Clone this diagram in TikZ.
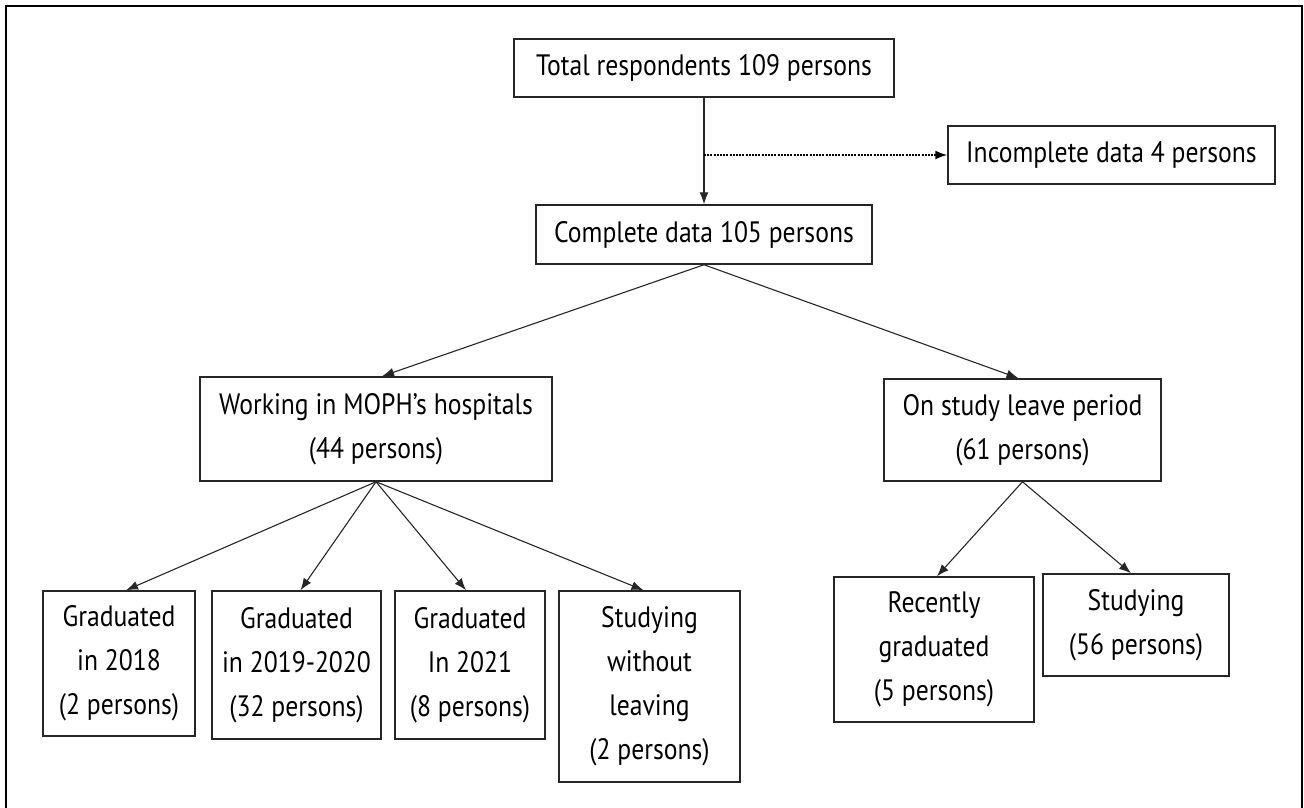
\documentclass[tikz,border=0pt]{standalone}
\usepackage{fontspec}
\setmainfont{PT Sans}[FakeStretch=0.87]
\usetikzlibrary{arrows.meta}
\begin{document}
\begin{tikzpicture}[x=1pt,y=-1pt,
  box/.style={draw=black!85,line width=1.5pt,inner sep=0pt,align=center,
    font=\fontsize{29.5}{44}\selectfont},
  arr/.style={draw=black!85,line width=1.1pt,-{Latex[length=12pt,width=9pt]}},
  dotarr/.style={draw=black,line width=1.6pt,dash pattern=on 2pt off 1.2pt,-{Latex[length=12pt,width=9pt]}},
]
\useasboundingbox (0,0) rectangle (1304,808);
\draw[line width=2.2pt] (6,808) -- (6,6) -- (1302,6) -- (1302,808);

\node[box,minimum width=380,minimum height=58] (tot) at (704,68) {Total respondents 109 persons};
\node[box,minimum width=327,minimum height=58] (inc) at (1111.5,155) {Incomplete data 4 persons};
\node[box,minimum width=336,minimum height=59] (comp) at (704,234.5) {Complete data 105 persons};
\node[box,minimum width=352,minimum height=104] (work) at (376,429) {Working in MOPH’s hospitals\\(44 persons)};
\node[box,minimum width=277,minimum height=102] (leave) at (1022.5,430) {On study leave period\\(61 persons)};
\node[box,minimum width=152,minimum height=145] (g18) at (119,663.5) {Graduated\\in 2018\\(2 persons)};
\node[box,minimum width=169,minimum height=148] (g19) at (296.5,665) {Graduated\\in 2019-2020\\(32 persons)};
\node[box,minimum width=150,minimum height=148] (g21) at (470,665) {Graduated\\In 2021\\(8 persons)};
\node[box,minimum width=181,minimum height=191] (stw) at (649.5,686.5) {Studying\\without\\leaving\\(2 persons)};
\node[box,minimum width=200,minimum height=145] (rec) at (934,649.5) {Recently\\graduated\\(5 persons)};
\node[box,minimum width=186,minimum height=102] (st56) at (1136,625) {Studying\\(56 persons)};

\coordinate (split) at (tot.south |- inc.west);
\draw[arr] (tot.south) -- (comp.north);
\draw[dotarr] (split) -- (inc.west);
\draw[arr] (comp.south) -- ([xshift=6]work.north);
\draw[arr] (comp.south) -- ([xshift=-4]leave.north);
\draw[arr] (work.south) -- ([xshift=7]g18.north);
\draw[arr] (work.south) -- ([xshift=4]g19.north);
\draw[arr] (work.south) -- ([xshift=-4]g21.north);
\draw[arr] (work.south) -- ([xshift=-6]stw.north);
\draw[arr] (leave.south) -- ([xshift=3]rec.north);
\draw[arr] (leave.south) -- ([xshift=-5]st56.north);
\end{tikzpicture}
\end{document}
